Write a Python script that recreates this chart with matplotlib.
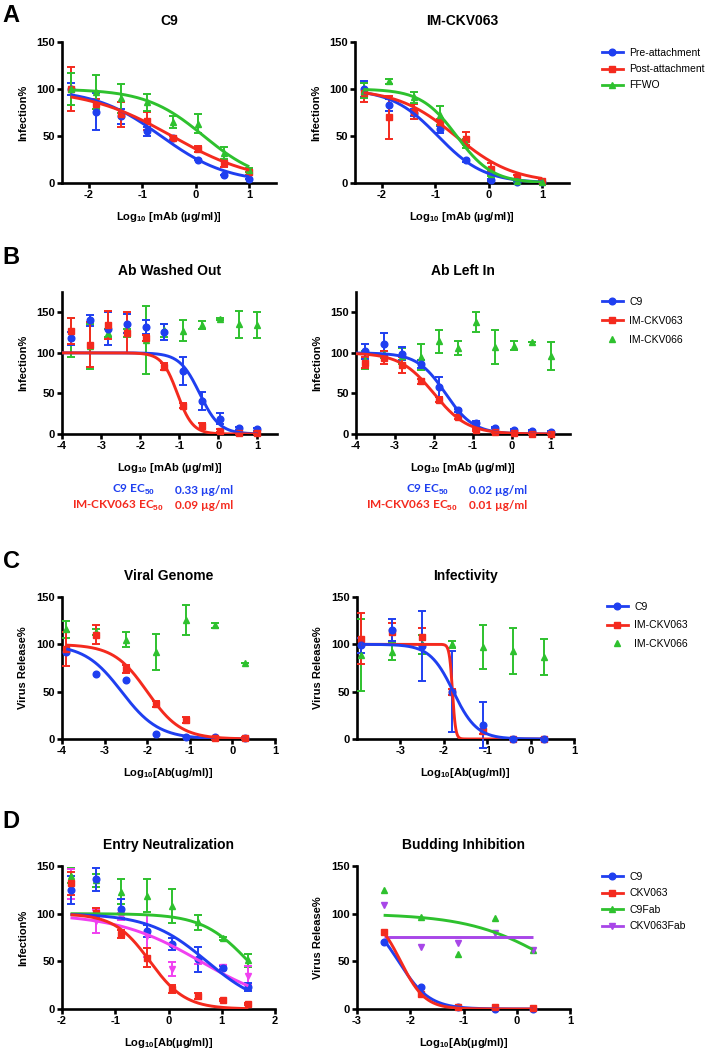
import numpy as np
import matplotlib
matplotlib.use("Agg")
import matplotlib.pyplot as plt
from matplotlib.lines import Line2D

W, H = 711, 1050

BLUE = "#1f3ff0"
RED = "#f42a1e"
GREEN = "#2ec12e"
MAGENTA = "#f040f0"
PURPLE = "#a846e8"

# fit params are (top, bottom, logEC50, hill)

# ---- panel A ----
a_x = [-2.34, -1.86, -1.39, -0.91, -0.43, 0.05, 0.52, 1.0]
a_c9_pre = [100, 76, 71, 55, 48, 25, 8, 4]
a_c9_pre_err = [6, 20, 8, 5, 2, 1, 0, 0]
a_c9_post = [100, 84, 73, 66, 48, 36, 21, 12]
a_c9_post_err = [23, 5, 13, 10, 2, 3, 4, 3]
a_c9_ffwo = [100, 97, 90, 86, 65, 63, 32, 14]
a_c9_ffwo_err = [17, 18, 15, 9, 6, 10, 6, 2]
a_c9_fits = [(100, 0, -0.65, 0.7), (100, 0, -0.45, 0.55), (100, 0, 0.15, 0.8)]

a_063_pre = [100, 83, 75, 57, 24, 3.5, 1.5, 1]
a_063_pre_err = [8, 6, 4, 4, 2, 1, 0, 0]
a_063_post = [96, 70, 76, 65, 47, 15, 6, 2]
a_063_post_err = [10, 23, 8, 3, 7, 6, 2, 1]
a_063_ffwo = [98, 108, 91, 72, 42, 10, 2, 1]
a_063_ffwo_err = [8, 3, 6, 10, 5, 3, 1, 0]
a_063_fits = [(100, 0, -0.95, 1.0), (100, 0, -0.62, 0.8), (100, 0, -0.6, 1.3)]
a_labels = ["Pre-attachment", "Post-attachment", "FFWO"]

# ---- panel B ----
b_x = [-3.77, -3.29, -2.82, -2.34, -1.86, -1.39, -0.91, -0.43, 0.05, 0.52, 1.0]
b_out_c9 = [118, 140, 130, 136, 132, 126, 78, 41, 19, 7, 6]
b_out_c9_err = [8, 7, 20, 12, 9, 10, 17, 11, 7, 2, 2]
b_out_063 = [127, 110, 134, 125, 118, 83, 35, 10, 4, 1.5, 1.5]
b_out_063_err = [16, 28, 17, 25, 4, 4, 3, 4, 2, 1, 1]
b_out_066 = [119, 108, 125, 124, 116, 128, 127, 134, 142, 135, 134]
b_out_066_err = [24, 28, 5, 5, 42, 8, 13, 5, 1, 17, 16]
b_out_fits = [(100, 0, -0.48, 1.7), (100, 0, -1.05, 2.2)]

b_in_c9 = [102, 111, 99, 86, 58, 29, 14, 8, 5, 4, 3]
b_in_c9_err = [9, 14, 8, 5, 12, 2, 2, 1, 1, 1, 1]
b_in_063 = [88, 94, 85, 65, 42, 21, 5, 2, 1, 0.5, 0.5]
b_in_063_err = [7, 8, 10, 3, 3, 2, 1, 1, 0, 0, 0]
b_in_066 = [91, 98, 96, 95, 114, 106, 138, 107, 109, 113, 96]
b_in_066_err = [11, 4, 10, 16, 14, 9, 12, 21, 6, 0, 17]
b_in_fits = [(100, 0, -1.7, 1.2), (100, 0, -2.0, 1.0)]
b_labels = ["C9", "IM-CKV063", "IM-CKV066"]
b_out_ec50 = ["0.33 µg/ml", "0.09 µg/ml"]
b_in_ec50 = ["0.02 µg/ml", "0.01 µg/ml"]

# ---- panel C ----
c_x = [-3.9, -3.2, -2.5, -1.8, -1.1, -0.4, 0.3]
c_gen_c9 = [92, 69, 62, 5, 2, 2, 1]
c_gen_063 = [95, 110, 74, 37, 20, 1, 1]
c_gen_063_err = [18, 10, 4, 3, 3, 1, 1]
c_gen_066 = [116, 113, 105, 92, 126, 120, 80]
c_gen_066_err = [9, 3, 8, 19, 16, 3, 0]
c_gen_fits = [(100, 0, -2.6, 1.0), (100, 0, -2.0, 1.1)]

c_inf_c9 = [99, 115, 98, 50, 15, 0, 0]
c_inf_c9_err = [8, 12, 37, 43, 24, 1, 1]
c_inf_063 = [106, 113, 108, 50, 8, 0, 0]
c_inf_063_err = [27, 10, 9, 3, 3, 0, 0]
c_inf_066 = [89, 92, 100, 100, 97, 93, 87]
c_inf_066_err = [38, 9, 10, 4, 23, 24, 19]
c_inf_fits = [(100, 0, -1.78, 1.6), (100, 0, -1.8, 12)]

# ---- panel D ----
d_x = [-1.84, -1.36, -0.89, -0.41, 0.07, 0.55, 1.02, 1.5]
d_c9 = [125, 136, 105, 82, 68, 52, 43, 23]
d_c9_err = [15, 12, 10, 6, 6, 13, 2, 4]
d_063 = [132, 101, 79, 54, 21, 14, 9, 5]
d_063_err = [12, 5, 4, 10, 4, 3, 1, 1]
d_c9fab = [140, 135, 123, 119, 108, 91, 74, 51]
d_c9fab_err = [8, 7, 13, 17, 18, 8, 2, 7]
d_063fab = [131, 92, 97, 77, 42, 50, 44, 35]
d_063fab_err = [16, 12, 4, 22, 7, 3, 2, 10]
d_entry_fits = [(100, 0, 0.72, 0.8), (100, 0, -0.35, 1.3),
                (100, 0, 1.5, 1.0), (100, 0, 0.6, 0.55)]

d2_x = [-2.5, -1.8, -1.1, -0.4, 0.3]
d2_c9 = [70, 23, 2, 0.5, 0.5]
d2_063 = [81, 16, 2, 2, 1]
d2_c9fab = [125, 97, 58, 95, 62]
d2_063fab = [109, 65, 69, 80, 62]
d2_fits = [(100, 0, -2.22, 1.5), (100, 0, -2.18, 1.9),
           (100, 0, 0.7, 0.55), (76, 76, 0, 1)]
d_labels = ["C9", "CKV063", "C9Fab", "CKV063Fab"]

plt.rcParams["font.family"] = ["Liberation Sans", "DejaVu Sans"]
plt.rcParams["font.weight"] = "bold"
plt.rcParams["mathtext.fontset"] = "custom"
plt.rcParams["mathtext.bf"] = "Liberation Sans:bold"
plt.rcParams["mathtext.rm"] = "Liberation Sans:bold"
plt.rcParams["mathtext.default"] = "bf"

fig = plt.figure(figsize=(W / 100, H / 100), dpi=100)


def logistic(x, top, bottom, logec, hill):
    return bottom + (top - bottom) / (1 + 10 ** ((x - logec) * hill))


def make_axes(x0, x1, y_top, y_bot, xlim, ylim, xticks, title, xlabel, ylabel):
    ax = fig.add_axes([x0 / W, 1 - y_bot / H, (x1 - x0) / W, (y_bot - y_top) / H])
    ax.set_xlim(*xlim)
    ax.set_ylim(*ylim)
    ax.set_xticks(xticks)
    ax.set_xticklabels([str(t) for t in xticks])
    ax.set_yticks([0, 50, 100, 150])
    for s in ["top", "right"]:
        ax.spines[s].set_visible(False)
    for s in ["left", "bottom"]:
        ax.spines[s].set_linewidth(1.9)
    ax.tick_params(direction="out", length=3.5, width=1.9, labelsize=8, pad=1.5)
    for lab in ax.get_xticklabels() + ax.get_yticklabels():
        lab.set_fontweight("bold")
    xc = (x0 + x1) / 2
    fig.text(xc / W, 1 - (y_top - 21) / H, title, ha="center", va="center",
             fontsize=10, fontweight="bold")
    fig.text(xc / W, 1 - (y_bot + 34) / H, xlabel, ha="center", va="center",
             fontsize=8, fontweight="bold")
    fig.text((x0 - 39) / W, 1 - ((y_top + y_bot) / 2) / H, ylabel, ha="center",
             va="center", rotation=90, fontsize=8, fontweight="bold")
    return ax


def plot_series(ax, x, y, err, color, marker, fit=None, xr=None, ms=4.8):
    ax.errorbar(x, y, yerr=err, fmt=marker, color=color, ms=ms, ecolor=color,
                elinewidth=1.4, capsize=3, capthick=1.4, clip_on=False, zorder=3)
    if fit is not None:
        lo, hi = xr if xr else (min(x), max(x))
        xs = np.linspace(lo, hi, 300)
        ax.plot(xs, logistic(xs, *fit), color=color, lw=2.1, zorder=4,
                solid_capstyle="butt")


def add_legend(x_px, y_px, handles, labels, spacing=0.6):
    fig.legend(handles, labels, loc="upper left",
               bbox_to_anchor=(x_px / W, 1 - y_px / H), frameon=False,
               borderpad=0, borderaxespad=0, handlelength=2.0,
               handletextpad=0.6, labelspacing=spacing,
               prop={"size": 7.5, "weight": "normal"})


def handle(color, marker, line=True):
    return Line2D([], [], color=color, marker=marker, ms=4.8,
                  lw=2 if line else 0)


xlab_mab = "Log$_{10}$ [mAb (µg/ml)]"
xlab_ug = "Log$_{10}$[Ab(ug/ml)]"
xlab_mu = "Log$_{10}$[Ab(µg/ml)]"

# panel letters
for letter, y in zip("ABCD", [15, 257, 562, 822]):
    fig.text(11 / W, 1 - y / H, letter, ha="center", va="center",
             fontsize=17, fontweight="bold")

# ---- A ----
ax = make_axes(62, 276, 42, 183, (-2.5, 1.5), (0, 150), [-2, -1, 0, 1],
               "C9", xlab_mab, "Infection%")
plot_series(ax, a_x, a_c9_pre, a_c9_pre_err, BLUE, "o", a_c9_fits[0])
plot_series(ax, a_x, a_c9_post, a_c9_post_err, RED, "s", a_c9_fits[1])
plot_series(ax, a_x, a_c9_ffwo, a_c9_ffwo_err, GREEN, "^", a_c9_fits[2])

ax = make_axes(355, 569, 42, 183, (-2.5, 1.5), (0, 150), [-2, -1, 0, 1],
               "IM-CKV063", xlab_mab, "Infection%")
plot_series(ax, a_x, a_063_pre, a_063_pre_err, BLUE, "o", a_063_fits[0])
plot_series(ax, a_x, a_063_post, a_063_post_err, RED, "s", a_063_fits[1])
plot_series(ax, a_x, a_063_ffwo, a_063_ffwo_err, GREEN, "^", a_063_fits[2])
add_legend(602, 48, [handle(BLUE, "o"), handle(RED, "s"), handle(GREEN, "^")],
           a_labels, 0.6)

# ---- B ----
for x0, x1, title, c9, c9e, k63, k63e, k66, k66e, fits, ec50 in [
    (62, 277, "Ab Washed Out", b_out_c9, b_out_c9_err, b_out_063, b_out_063_err,
     b_out_066, b_out_066_err, b_out_fits, b_out_ec50),
    (356, 570, "Ab Left In", b_in_c9, b_in_c9_err, b_in_063, b_in_063_err,
     b_in_066, b_in_066_err, b_in_fits, b_in_ec50),
]:
    ax = make_axes(x0, x1, 292, 434, (-4, 1.5), (0, 175), [-4, -3, -2, -1, 0, 1],
                   title, xlab_mab, "Infection%")
    ax.set_yticks([0, 50, 100, 150])
    plot_series(ax, b_x, k66, k66e, GREEN, "^")
    plot_series(ax, b_x, c9, c9e, BLUE, "o", fits[0], (-4, 1))
    plot_series(ax, b_x, k63, k63e, RED, "s", fits[1], (-4, 1))
    vx = x0 + 113
    fig.text((x0 + 93) / W, 1 - 490 / H, "C9 EC$_{50}$", color=BLUE, ha="right",
             va="center", fontsize=8.5, fontweight="bold", family="Lato")
    fig.text((x0 + 102) / W, 1 - 506 / H, "IM-CKV063 EC$_{50}$", color=RED,
             ha="right", va="center", fontsize=8.5, fontweight="bold",
             family="Lato")
    fig.text(vx / W, 1 - 490 / H, ec50[0], color=BLUE, ha="left",
             va="center", fontsize=8.5, fontweight="bold", family="Lato")
    fig.text(vx / W, 1 - 506 / H, ec50[1], color=RED, ha="left",
             va="center", fontsize=8.5, fontweight="bold", family="Lato")
add_legend(602, 297, [handle(BLUE, "o"), handle(RED, "s"),
                      handle(GREEN, "^", line=False)], b_labels, 0.85)

# ---- C ----
ax = make_axes(62, 275, 597, 739, (-4, 1), (0, 150), [-4, -3, -2, -1, 0, 1],
               "Viral Genome", xlab_ug, "Virus Release%")
plot_series(ax, c_x, c_gen_066, c_gen_066_err, GREEN, "^")
plot_series(ax, c_x, c_gen_c9, None, BLUE, "o", c_gen_fits[0])
plot_series(ax, c_x, c_gen_063, c_gen_063_err, RED, "s", c_gen_fits[1])

ax = make_axes(357, 574, 597, 739, (-4, 1), (0, 150), [-3, -2, -1, 0, 1],
               "Infectivity", xlab_ug, "Virus Release%")
plot_series(ax, c_x, c_inf_066, c_inf_066_err, GREEN, "^")
plot_series(ax, c_x, c_inf_063, c_inf_063_err, RED, "s", c_inf_fits[1])
plot_series(ax, c_x, c_inf_c9, c_inf_c9_err, BLUE, "o", c_inf_fits[0])
add_legend(607, 602, [handle(BLUE, "o"), handle(RED, "s"),
                      handle(GREEN, "^", line=False)], b_labels, 0.8)

# ---- D ----
ax = make_axes(62, 275, 866, 1009, (-2, 2), (0, 150), [-2, -1, 0, 1, 2],
               "Entry Neutralization", xlab_mu, "Infection%")
plot_series(ax, d_x, d_c9fab, d_c9fab_err, GREEN, "^", d_entry_fits[2])
plot_series(ax, d_x, d_063fab, d_063fab_err, MAGENTA, "v", d_entry_fits[3])
plot_series(ax, d_x, d_c9, d_c9_err, BLUE, "o", d_entry_fits[0])
plot_series(ax, d_x, d_063, d_063_err, RED, "s", d_entry_fits[1])

ax = make_axes(357, 570, 866, 1009, (-3, 1), (0, 150), [-3, -2, -1, 0, 1],
               "Budding Inhibition", xlab_mu, "Virus Release%")
plot_series(ax, d2_x, d2_c9fab, None, GREEN, "^", d2_fits[2])
plot_series(ax, d2_x, d2_063fab, None, PURPLE, "v", d2_fits[3])
plot_series(ax, d2_x, d2_c9, None, BLUE, "o", d2_fits[0])
plot_series(ax, d2_x, d2_063, None, RED, "s", d2_fits[1])
add_legend(602, 872, [handle(BLUE, "o"), handle(RED, "s"), handle(GREEN, "^"),
                      handle(PURPLE, "v")], d_labels, 0.62)

fig.savefig("out.png", dpi=100)
